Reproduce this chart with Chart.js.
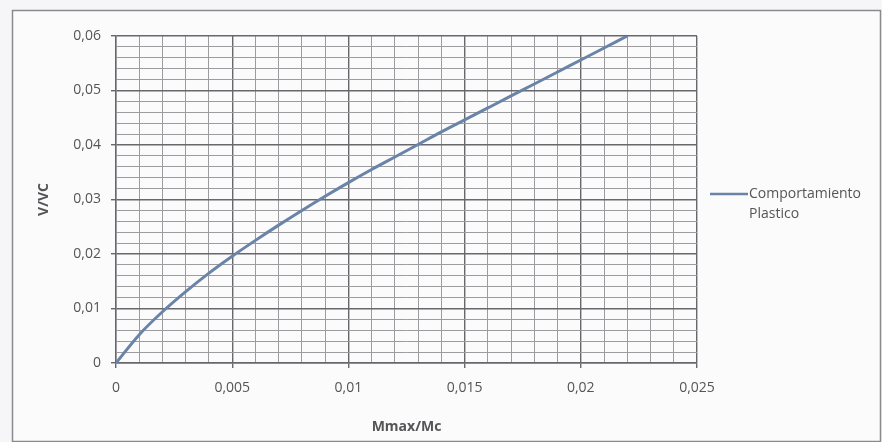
<!DOCTYPE html>
<html>
<head>
<meta charset="utf-8">
<script src="https://cdn.jsdelivr.net/npm/chart.js@4/dist/chart.umd.min.js"></script>
<style>
  html, body { margin: 0; padding: 0; background: #f6f6f8; }
  #wrap { width: 882px; height: 442px; position: relative; }
</style>
</head>
<body>
<div id="wrap"><canvas id="chartPlastic"></canvas></div>
<script>
// ── Comportamiento plastico: V/VC against Mmax/Mc ──────────

const seriesLabel = "Comportamiento Plastico";
const mRatio = [0, 0.001, 0.002, 0.003, 0.004, 0.005, 0.006, 0.007, 0.008, 0.009, 0.010,
  0.011, 0.012, 0.013, 0.014, 0.015, 0.016, 0.017, 0.018, 0.019, 0.020, 0.021, 0.022];
const vRatio = [0, 0.0052, 0.0094, 0.0131, 0.0165, 0.0196, 0.0225, 0.0253, 0.0280, 0.0306, 0.0331,
  0.0355, 0.0378, 0.0401, 0.0424, 0.0446, 0.0468, 0.0490, 0.0512, 0.0534, 0.0556, 0.0578, 0.0600];

const xTickLabels = ["0", "0,005", "0,01", "0,015", "0,02", "0,025"];
const yTickLabels = ["0", "0,01", "0,02", "0,03", "0,04", "0,05", "0,06"];

const xMajor = 0.005, xMinor = 0.001;
const yMajor = 0.01, yMinor = 0.002;

const textColor = "#555558";
const fontFamily = "'Open Sans', 'DejaVu Sans', sans-serif";
const lineColor = "#6a84a8";

function majorIndex(value, step) {
  const r = value / step;
  return Math.abs(r - Math.round(r)) < 1e-6 ? Math.round(r) : -1;
}

const framePlugin = {
  id: "frame",
  beforeDraw(chart) {
    const ctx = chart.ctx;
    ctx.save();
    ctx.fillStyle = "#f6f6f8";
    ctx.fillRect(0, 0, chart.width, chart.height);
    ctx.fillStyle = "#fbfbfc";
    ctx.fillRect(12, 10, chart.width - 14, chart.height - 11);
    ctx.strokeStyle = "#8a8a8e";
    ctx.lineWidth = 1.5;
    ctx.strokeRect(12.5, 10.5, chart.width - 14, chart.height - 11);
    ctx.restore();
  },
};

// legend with the label broken over two lines, as in the original
const sideLegend = {
  id: "sideLegend",
  afterDraw(chart) {
    const ctx = chart.ctx;
    const ds = chart.data.datasets[0];
    const x = 710, y = 194;
    ctx.save();
    ctx.strokeStyle = ds.borderColor;
    ctx.lineWidth = 2.5;
    ctx.beginPath();
    ctx.moveTo(x, y);
    ctx.lineTo(x + 38, y);
    ctx.stroke();
    ctx.fillStyle = textColor;
    ctx.font = `14px ${fontFamily}`;
    ctx.textBaseline = "middle";
    ds.label.split(" ").forEach((word, i) => {
      ctx.fillText(word, x + 39, y + i * 20);
    });
    ctx.restore();
  },
};

new Chart(document.getElementById("chartPlastic"), {
  type: "line",
  data: {
    datasets: [
      {
        label: seriesLabel,
        data: mRatio.map((m, i) => ({ x: m, y: vRatio[i] })),
        borderColor: lineColor,
        borderWidth: 3,
        pointRadius: 0,
        cubicInterpolationMode: "monotone",
        fill: false,
      },
    ],
  },
  options: {
    responsive: true,
    maintainAspectRatio: false,
    animation: false,
    layout: { padding: { left: 0, top: 36, right: 185, bottom: 0 } },
    plugins: {
      legend: { display: false },
      tooltip: { enabled: false },
    },
    scales: {
      x: {
        type: "linear",
        min: 0,
        max: 0.025,
        afterFit: (scale) => { scale.height = 79; },
        ticks: {
          stepSize: xMinor,
          autoSkip: false,
          maxRotation: 0,
          padding: 12,
          color: textColor,
          font: { family: fontFamily, size: 14 },
          callback: (v) => {
            const k = majorIndex(v, xMajor);
            return k >= 0 ? xTickLabels[k] : "";
          },
        },
        grid: {
          tickLength: 5,
          color: (c) => (majorIndex(c.tick.value, xMajor) >= 0 ? "#68686c" : "#9c9ca0"),
          tickColor: (c) => (majorIndex(c.tick.value, xMajor) >= 0 ? "#68686c" : "rgba(0,0,0,0)"),
          lineWidth: (c) => (majorIndex(c.tick.value, xMajor) >= 0 ? 1.4 : 1),
        },
        border: { color: "#68686c", width: 1.4 },
        title: {
          display: true,
          text: "Mmax/Mc",
          color: textColor,
          font: { family: fontFamily, size: 14, weight: "bold" },
          padding: { top: 0, bottom: 7 },
        },
      },
      y: {
        type: "linear",
        min: 0,
        max: 0.06,
        afterFit: (scale) => { scale.width = 116; },
        ticks: {
          stepSize: yMinor,
          autoSkip: false,
          padding: 10,
          color: textColor,
          font: { family: fontFamily, size: 14 },
          callback: (v) => {
            const k = majorIndex(v, yMajor);
            return k >= 0 ? yTickLabels[k] : "";
          },
        },
        grid: {
          tickLength: 5,
          color: (c) => (majorIndex(c.tick.value, yMajor) >= 0 ? "#68686c" : "#9c9ca0"),
          tickColor: (c) => (majorIndex(c.tick.value, yMajor) >= 0 ? "#68686c" : "rgba(0,0,0,0)"),
          lineWidth: (c) => (majorIndex(c.tick.value, yMajor) >= 0 ? 1.4 : 1),
        },
        border: { color: "#68686c", width: 1.4 },
        title: {
          display: true,
          text: "V/VC",
          color: textColor,
          font: { family: fontFamily, size: 14, weight: "bold" },
          padding: { top: 36, bottom: 0 },
        },
      },
    },
  },
  plugins: [framePlugin, sideLegend],
});
</script>
</body>
</html>
